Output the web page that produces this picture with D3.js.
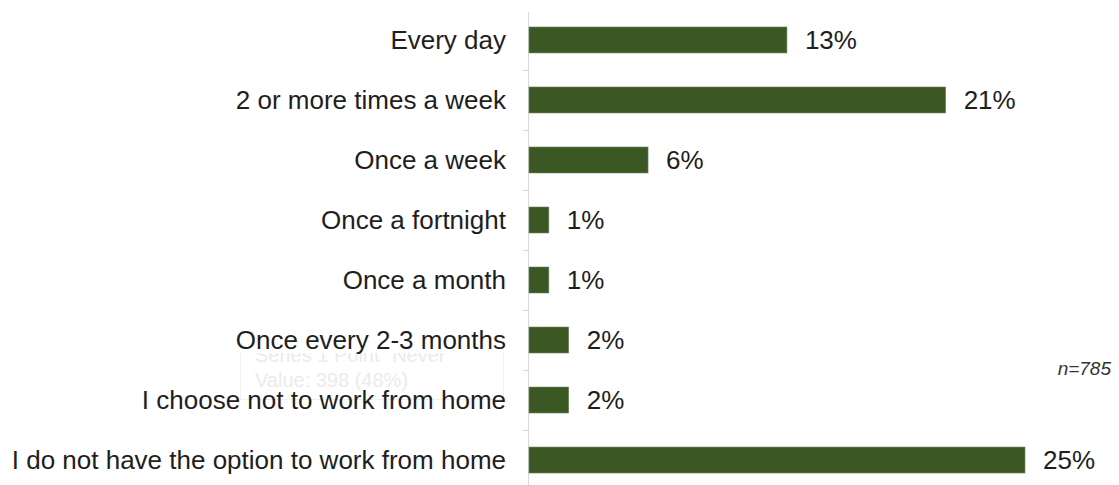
<!DOCTYPE html>
<html>
<head>
<meta charset="utf-8">
<script src="https://cdn.jsdelivr.net/npm/d3@7"></script>
<style>
  html, body { margin: 0; padding: 0; background: #fff; }
  svg { display: block; font-family: "Liberation Sans", Arial, sans-serif; }
</style>
</head>
<body>
<svg id="chart" width="1119" height="485"></svg>
<script>
// How often respondents work from home
const categories = [
  "Every day",
  "2 or more times a week",
  "Once a week",
  "Once a fortnight",
  "Once a month",
  "Once every 2-3 months",
  "I choose not to work from home",
  "I do not have the option to work from home"
];
const percentages = [13, 21, 6, 1, 1, 2, 2, 25];
const valueLabels = ["13%", "21%", "6%", "1%", "1%", "2%", "2%", "25%"];
const sampleNote = "n=785";
const hoverLines = ["Series 1 Point \"Never\"", "Value: 398 (48%)"];

const svg = d3.select("#chart");
const axisX = 528;
const labelSize = 26;

const x = d3.scaleLinear().domain([0, 25]).range([axisX + 1, 1025]);
const y = d3.scaleBand().domain(categories).range([10, 490]).paddingInner(0.567).paddingOuter(0.283);

// faint leftover hover box, its top hidden under the label above
svg.append("defs").append("clipPath").attr("id", "tipClip")
  .append("rect").attr("x", 230).attr("y", 353).attr("width", 290).attr("height", 60);
const tip = svg.append("g").attr("class", "hover-box").attr("clip-path", "url(#tipClip)");
tip.append("rect")
  .attr("x", 240.5).attr("y", 330.5).attr("width", 263).attr("height", 69)
  .attr("fill", "#fff").attr("stroke", "#f0f0f0");
tip.selectAll("text").data(hoverLines).enter().append("text")
  .attr("x", 255).attr("y", (d, i) => 362 + i * 25)
  .attr("font-size", 20).attr("fill", "#ebebeb").text(d => d);

// category axis
const axis = d3.axisLeft(y).tickSize(0).tickPadding(22);
const gAxis = svg.append("g").attr("transform", `translate(${axisX},0)`).call(axis);
gAxis.select(".domain").remove();
gAxis.selectAll("text").attr("font-size", labelSize).attr("fill", "#1e1e1e").attr("dy", "0.33em")
  .attr("font-family", "'Liberation Sans', Arial, sans-serif");

svg.append("line").attr("x1", axisX + 0.5).attr("x2", axisX + 0.5)
  .attr("y1", 12).attr("y2", 485).attr("stroke", "#d9d9d9").attr("stroke-width", 1);

// separator ticks between categories
const bounds = categories.slice(1).map(c => y(c) - (y.step() - y.bandwidth()) / 2);
svg.selectAll("line.sep").data(bounds).enter().append("line")
  .attr("class", "sep")
  .attr("x1", axisX - 5).attr("x2", axisX)
  .attr("y1", d => Math.round(d) + 0.5).attr("y2", d => Math.round(d) + 0.5)
  .attr("stroke", "#d9d9d9");

// bars
svg.selectAll("rect.bar").data(percentages).enter().append("rect")
  .attr("class", "bar")
  .attr("x", x(0))
  .attr("y", (d, i) => y(categories[i]))
  .attr("width", d => x(d) - x(0))
  .attr("height", y.bandwidth())
  .attr("fill", "#3b5824")
  .attr("stroke", "#6b8260").attr("stroke-width", 0.6);

// value labels
svg.selectAll("text.val").data(percentages).enter().append("text")
  .attr("class", "val")
  .attr("x", d => x(d) + 18)
  .attr("y", (d, i) => y(categories[i]) + y.bandwidth() / 2)
  .attr("dy", "0.33em")
  .attr("font-size", labelSize).attr("fill", "#1e1e1e")
  .text((d, i) => valueLabels[i]);

// sample size note
svg.append("text")
  .attr("x", 1111).attr("y", 375)
  .attr("text-anchor", "end")
  .attr("font-size", 19).attr("font-style", "italic").attr("fill", "#333")
  .text(sampleNote);
</script>
</body>
</html>
